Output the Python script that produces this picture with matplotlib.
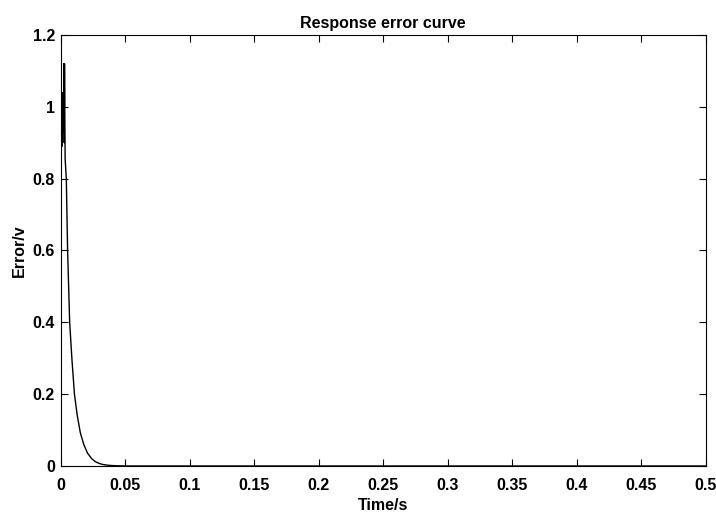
import matplotlib
matplotlib.use("Agg")
import matplotlib.pyplot as plt

# time (s) and response error (v)
time = [0, 0.0008, 0.0012, 0.0013, 0.0016, 0.0020, 0.0024, 0.0027,
        0.0028, 0.0029, 0.00295, 0.0030, 0.0031, 0.0033,
        0.0036, 0.0045, 0.0055, 0.0063, 0.0071, 0.0088, 0.0108, 0.013,
        0.0154, 0.018, 0.0209, 0.024, 0.027, 0.030, 0.033, 0.037, 0.041,
        0.045, 0.05, 0.055, 0.1, 0.2, 0.3, 0.4, 0.5]
error = [1.0, 1.0, 0.89, 1.0, 0.93, 1.04, 0.94, 1.06,
         1.12, 0.9, 1.12, 1.0, 1.12, 1.0,
         0.854, 0.8, 0.6, 0.5, 0.4, 0.3, 0.2, 0.14,
         0.092, 0.06, 0.036, 0.021, 0.012, 0.007, 0.004, 0.002, 0.001,
         0.0005, 0.0002, 0.0, 0.0, 0.0, 0.0, 0.0, 0.0]

xticks = [0, 0.05, 0.1, 0.15, 0.2, 0.25, 0.3, 0.35, 0.4, 0.45, 0.5]
xticklabels = ["0", "0.05", "0.1", "0.15", "0.2", "0.25", "0.3", "0.35", "0.4", "0.45", "0.5"]
yticks = [0, 0.2, 0.4, 0.6, 0.8, 1.0, 1.2]
yticklabels = ["0", "0.2", "0.4", "0.6", "0.8", "1", "1.2"]

plt.rcParams["font.family"] = ["Liberation Sans", "DejaVu Sans"]
plt.rcParams["font.weight"] = "bold"

fig = plt.figure(figsize=(7.16, 5.14), dpi=100)
ax = fig.add_axes([0.0845, 0.0934, 0.9015, 0.8386])
ax.plot(time, error, color="black", linewidth=1.0)

ax.set_xlim(0, 0.5)
ax.set_ylim(0, 1.2)
ax.set_xticks(xticks)
ax.set_xticklabels(xticklabels)
ax.set_yticks(yticks)
ax.set_yticklabels(yticklabels)
ax.tick_params(direction="in", top=True, right=True, labelsize=11.5, length=5, width=0.8)
ax.tick_params(axis="x", pad=8.5)
ax.tick_params(axis="y", pad=4)
for s in ax.spines.values():
  s.set_linewidth(0.8)

ax.set_xlabel("Time/s", fontsize=11.5, fontweight="bold", labelpad=3.5)
ax.set_ylabel("Error/v", fontsize=11.5, fontweight="bold", labelpad=4)
ax.set_title("Response error curve", fontsize=11.5, fontweight="bold", pad=5)

fig.savefig("out.png", dpi=100)
